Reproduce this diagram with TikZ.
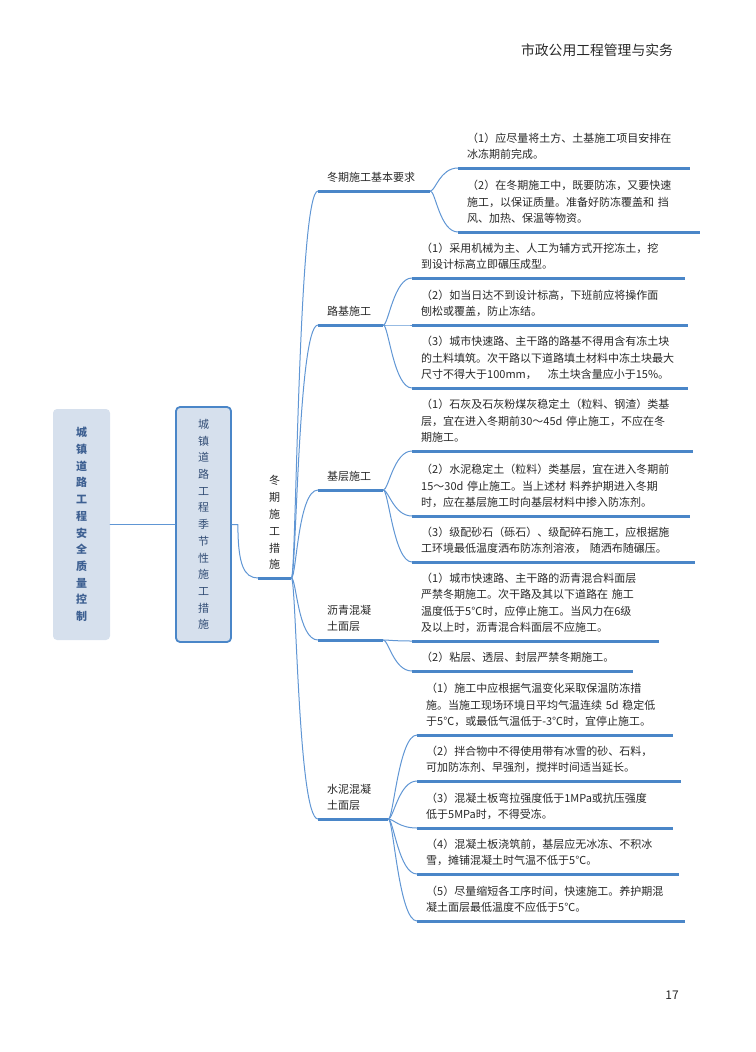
\documentclass[tikz,border=0pt]{standalone}
\usepackage{fontspec}
\setmainfont{Noto Sans CJK SC}
\usetikzlibrary{positioning}

\definecolor{linkblue}{RGB}{96,150,212}
\definecolor{barblue}{RGB}{74,134,200}
\definecolor{boxfill}{RGB}{214,224,237}
\definecolor{boxtext}{RGB}{62,96,146}
\definecolor{inktext}{RGB}{40,40,40}

\begin{document}
\begin{tikzpicture}[x=1pt, y=-1pt,
                    line cap=round, line join=round,
                    link/.style={linkblue, line width=1pt},
                    bar/.style={barblue, line width=3pt, line cap=butt},
                    topic/.style={fill=boxfill, rounded corners=4pt, align=center,
                                  font=\fontsize{11}{16.7}\selectfont},
                    twig/.style={anchor=south west, align=left, inner xsep=9pt, inner ysep=8pt,
                                 text=inktext, font=\fontsize{11}{16.5}\selectfont}]
  \useasboundingbox (0,0) rectangle (755,1052);

  % page header and number
  \node[text=inktext, font=\fontsize{13.8}{16}\selectfont] (title) at (597,50) {市政公用工程管理与实务};
  \node[text=inktext, font=\fontsize{12}{14}\selectfont] (page) at (672,995) {17};

  % left boxes
  \node[topic, text=boxtext, font=\bfseries\fontsize{11}{16.7}\selectfont,
        minimum width=57pt, minimum height=231pt] (root) at (81.5,524.5)
    {城\\镇\\道\\路\\工\\程\\安\\全\\质\\量\\控\\制};
  \node[topic, draw=barblue, line width=1.8pt, text=boxtext!80!black,
        minimum width=55pt, minimum height=235pt] (season) at (203.5,524.5)
    {城\\镇\\道\\路\\工\\程\\季\\节\\性\\施\\工\\措\\施};
  \node[twig, align=center, text width=33pt, inner xsep=0pt,
        font=\fontsize{11}{16.8}\selectfont] (winter) at (258,578) {冬\\期\\施\\工\\措\\施};

  % second level
  \node[twig, text width=94pt] (req) at (318,191) {冬期施工基本要求};
  \node[twig, text width=47pt] (subgrade) at (318,325) {路基施工};
  \node[twig, text width=47pt] (base) at (318,490) {基层施工};
  \node[twig, text width=47pt] (asphalt) at (318,640) {沥青混凝\\土面层};
  \node[twig, text width=52pt] (concrete) at (318,819) {水泥混凝\\土面层};

  % leaves
  \node[twig, text width=214pt] (r1) at (458,168) {（1）应尽量将土方、土基施工项目安排在\\冰冻期前完成。};
  \node[twig, text width=224pt] (r2) at (458,232) {（2）在冬期施工中，既要防冻，又要快速\\施工，以保证质量。准备好防冻覆盖和 挡\\风、加热、保温等物资。};

  \node[twig, text width=255pt] (s1) at (412,278) {（1）采用机械为主、人工为辅方式开挖冻土，挖\\到设计标高立即碾压成型。};
  \node[twig, text width=258pt] (s2) at (412,325) {（2）如当日达不到设计标高，下班前应将操作面\\刨松或覆盖，防止冻结。};
  \node[twig, text width=258pt] (s3) at (412,388) {（3）城市快速路、主干路的路基不得用含有冻土块\\的土料填筑。次干路以下道路填土材料中冻土块最大\\尺寸不得大于100mm，　冻土块含量应小于15\%。};

  \node[twig, text width=263pt] (b1) at (412,451) {（1）石灰及石灰粉煤灰稳定土（粒料、钢渣）类基\\层，宜在进入冬期前30～45d 停止施工，不应在冬\\期施工。};
  \node[twig, text width=260pt] (b2) at (412,516) {（2）水泥稳定土（粒料）类基层，宜在进入冬期前\\15～30d 停止施工。当上述材 料养护期进入冬期\\时，应在基层施工时向基层材料中掺入防冻剂。};
  \node[twig, text width=265pt] (b3) at (412,562) {（3）级配砂石（砾石）、级配碎石施工，应根据施\\工环境最低温度洒布防冻剂溶液， 随洒布随碾压。};

  \node[twig, text width=229pt] (a1) at (412,641) {（1）城市快速路、主干路的沥青混合料面层\\严禁冬期施工。次干路及其以下道路在 施工\\温度低于5℃时，应停止施工。当风力在6级\\及以上时，沥青混合料面层不应施工。};
  \node[twig, text width=203pt] (a2) at (412,671) {（2）粘层、透层、封层严禁冬期施工。};

  \node[twig, text width=238pt] (c1) at (417,735) {（1）施工中应根据气温变化采取保温防冻措\\施。当施工现场环境日平均气温连续 5d 稳定低\\于5℃，或最低气温低于-3℃时，宜停止施工。};
  \node[twig, text width=246pt] (c2) at (417,781) {（2）拌合物中不得使用带有冰雪的砂、石料，\\可加防冻剂、早强剂，搅拌时间适当延长。};
  \node[twig, text width=238pt] (c3) at (417,828) {（3）混凝土板弯拉强度低于1MPa或抗压强度\\低于5MPa时，不得受冻。};
  \node[twig, text width=244pt] (c4) at (417,874) {（4）混凝土板浇筑前，基层应无冰冻、不积冰\\雪，摊铺混凝土时气温不低于5℃。};
  \node[twig, text width=250pt] (c5) at (417,921) {（5）尽量缩短各工序时间，快速施工。养护期混\\凝土面层最低温度不应低于5℃。};

  % connectors
  \draw[link] (root) -- (season);
  \draw[link] (season.east) -- ++(6,0) .. controls +(0,40) and +(-14,0) .. (winter.south west);
  \foreach \k in {req,subgrade,base,asphalt,concrete}
    \draw[link] (winter.south east) .. controls +(5,0) and +(-20,0) .. (\k.south west);
  \foreach \p/\c in {req/r1,req/r2,subgrade/s1,subgrade/s2,subgrade/s3,
                     base/b1,base/b2,base/b3,asphalt/a1,asphalt/a2,
                     concrete/c1,concrete/c2,concrete/c3,concrete/c4,concrete/c5}
    \draw[link] (\p.south east) .. controls +(5,0) and +(-18,0) .. (\c.south west);

  % underlines
  \foreach \n in {winter,req,subgrade,base,asphalt,concrete,r1,r2,s1,s2,s3,
                  b1,b2,b3,a1,a2,c1,c2,c3,c4,c5}
    \draw[bar] (\n.south west) -- (\n.south east);
\end{tikzpicture}
\end{document}
